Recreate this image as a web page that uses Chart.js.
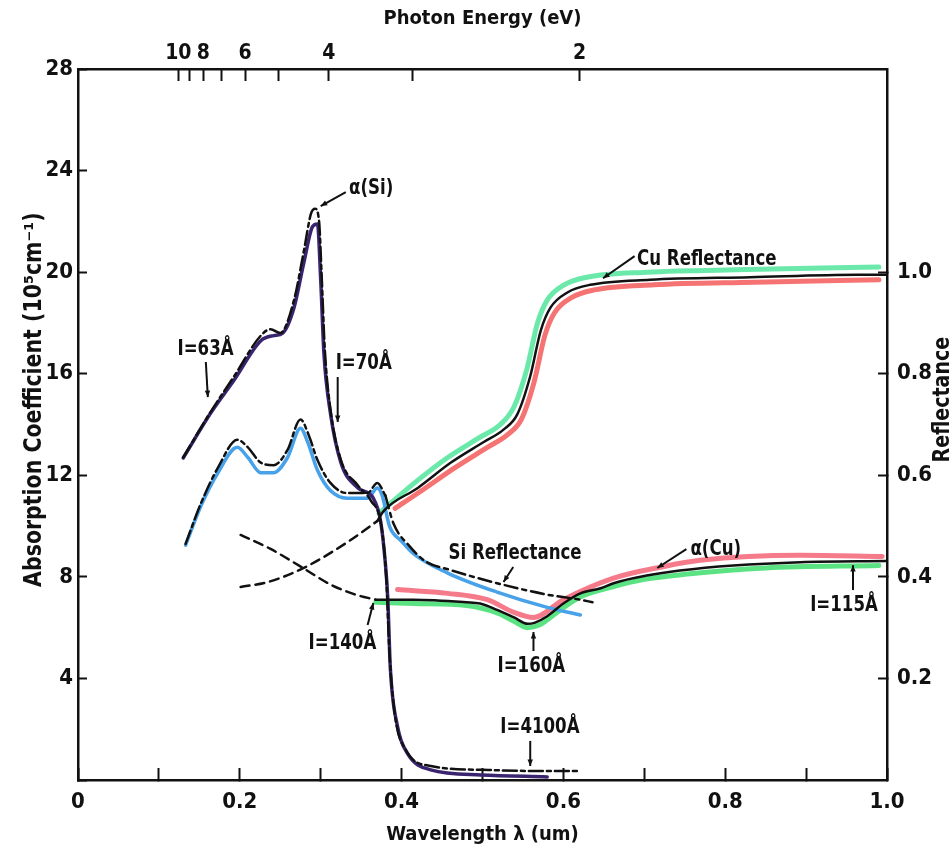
<!DOCTYPE html>
<html><head><meta charset="utf-8">
<script src="https://cdn.jsdelivr.net/npm/chart.js@4.4.0/dist/chart.umd.min.js"></script>
<style>html,body{margin:0;padding:0;background:#fff;}#wrap{width:950px;height:854px;}</style>
</head><body><div id="wrap"><canvas id="c" width="950" height="854"></canvas></div>
<script>
// ---------- data (wavelength in um, absorption in 1e5 cm^-1, reflectance 0..1) ----------
const siThickLambda   = [0.130,0.164,0.193,0.226,0.242,0.253,0.267,0.279,0.290,0.296,0.300,0.304,0.312,0.325,0.346,0.365,0.374,0.380,0.383,0.386,0.395,0.407,0.436,0.498,0.580];
const siThickMeasured = [12.68,14.45,15.75,17.3,17.5,17.6,18.6,20.35,21.8,21.9,19.7,16.8,14.45,12.5,11.5,11.1,10.2,8.5,7.1,4.45,2.1,1.06,0.4,0.2,0.12];

const siThickFitLambda = [0.130,0.164,0.193,0.226,0.238,0.250,0.267,0.279,0.288,0.293,0.298,0.301,0.305,0.312,0.325,0.346,0.362,0.375,0.381,0.385,0.392,0.405,0.436,0.500,0.580,0.621];
const siThickFit       = [12.7,14.5,15.9,17.5,17.75,17.6,18.9,20.8,22.3,22.5,22.0,20.0,17.0,14.6,12.6,11.6,11.0,10.0,8.0,5.0,2.5,1.2,0.55,0.4,0.35,0.35];

const siThinLambda   = [0.133,0.152,0.173,0.197,0.210,0.226,0.242,0.259,0.275,0.284,0.296,0.312,0.333,0.358,0.370,0.376,0.385,0.400,0.415,0.457,0.518,0.580,0.621];
const siThinMeasured = [9.25,10.8,12.1,13.1,12.7,12.1,12.1,12.7,13.85,13.3,12.2,11.4,11.1,11.1,11.5,11.2,10.0,9.4,8.9,8.15,7.4,6.8,6.5];

const siThinFitLambda = [0.133,0.152,0.173,0.197,0.210,0.226,0.242,0.259,0.275,0.285,0.296,0.312,0.333,0.358,0.370,0.380];
const siThinFit       = [9.3,10.9,12.3,13.4,13.1,12.5,12.4,13.0,14.2,13.6,12.6,11.7,11.3,11.3,11.7,11.2];

const siReflLambda = [0.380,0.390,0.410,0.430,0.457,0.518,0.580,0.621,0.636];
const siRefl       = [0.56,0.505,0.46,0.43,0.415,0.3875,0.365,0.355,0.35];

const cuReflExtLambda = [0.201,0.235,0.279,0.337,0.370];
const cuReflExt       = [0.38,0.39,0.4175,0.4725,0.51];

const cuReflLambda = [0.370,0.378,0.420,0.461,0.501,0.526,0.543,0.559,0.572,0.584,0.605,0.633,0.707,0.831,0.963,1.000];
const cuRefl       = [0.51,0.53,0.575,0.625,0.665,0.69,0.72,0.795,0.885,0.93,0.96,0.975,0.985,0.99,0.995,0.995];

const cuReflGreenLambda = [0.372,0.416,0.457,0.497,0.522,0.539,0.555,0.568,0.580,0.601,0.629,0.703,0.827,0.990];
const cuReflGreen       = [0.525,0.585,0.635,0.675,0.70,0.735,0.81,0.90,0.945,0.975,0.99,1.0,1.005,1.01];

const cuReflRedLambda = [0.392,0.425,0.466,0.506,0.531,0.548,0.564,0.577,0.589,0.610,0.638,0.712,0.836,0.990];
const cuReflRed       = [0.535,0.57,0.615,0.655,0.68,0.71,0.785,0.875,0.92,0.95,0.965,0.975,0.98,0.985];

const cuAbsExtLambda = [0.201,0.238,0.278,0.312,0.343,0.368];
const cuAbsExt       = [9.65,9.1,8.35,7.7,7.3,7.1];

const cuAbsLambda = [0.368,0.415,0.480,0.497,0.518,0.539,0.556,0.565,0.580,0.600,0.621,0.646,0.662,0.703,0.744,0.810,0.893,1.000];
const cuAbs       = [7.1,7.1,7.0,6.95,6.7,6.4,6.15,6.2,6.45,6.95,7.35,7.55,7.75,8.05,8.25,8.45,8.58,8.62];

const cuAbsGreenLambda = [0.368,0.415,0.480,0.518,0.539,0.556,0.570,0.590,0.620,0.660,0.700,0.750,0.850,0.990];
const cuAbsGreen       = [7.0,6.95,6.87,6.58,6.25,6.0,6.1,6.55,7.2,7.6,7.9,8.1,8.35,8.45];

const cuAbsRedLambda = [0.395,0.457,0.506,0.539,0.563,0.600,0.662,0.723,0.769,0.893,0.994];
const cuAbsRed       = [7.5,7.35,7.1,6.6,6.4,7.1,7.95,8.4,8.65,8.85,8.8];

// axis ticks
const energyTicks  = [10,9,8,7,6,5,4,3,2];       // eV, top axis tick marks
const energyLabels = [10,8,6,4,2];               // eV, labelled
const reflTicks    = [0.2,0.4,0.6,0.8,1.0];
const absTicksMax  = 28;

// annotations: [text, lambda, value, arrowFrom(l,v), arrowTo(l,v)]
const notes = [
  ['α(Si)',          0.335, 23.3,  [0.331,23.15],[0.300,22.6]],
  ['I=63Å',          0.123, 16.97, [0.158,16.46],[0.1605,15.08]],
  ['I=70Å',          0.3185,16.42, [0.321,15.87],[0.321,14.1]],
  ['Cu Reflectance', 0.691, 20.51, [0.688,20.63],[0.649,19.76]],
  ['Si Reflectance', 0.458, 8.94,  [0.538,8.39],[0.526,7.8]],
  ['α(Cu)',          0.757, 9.09,  [0.752,9.09],[0.716,8.35]],
  ['I=115Å',         0.905, 6.89,  [0.958,7.48],[0.958,8.46]],
  ['I=140Å',         0.285, 5.39,  [0.358,6.1],[0.365,6.97]],
  ['I=160Å',         0.5185,4.49,  [0.563,5.08],[0.563,5.83]],
  ['I=4100Å',        0.522, 2.09,  [0.559,1.54],[0.559,0.55]]
];

// ---------- chart ----------
const FONT = "'DejaVu Sans Condensed','Liberation Sans Narrow','Liberation Sans',sans-serif";
const pts = (xs, ys) => xs.map((x, i) => ({x, y: ys[i]}));

function ds(data, color, width, axis, order, dash) {
  return {data, borderColor: color, borderWidth: width, yAxisID: axis, order,
    borderDash: dash || [], pointRadius: 0, fill: false,
    cubicInterpolationMode: 'monotone', borderCapStyle: 'round', borderJoinStyle: 'round'};
}

const datasets = [
  ds(pts(cuReflGreenLambda, cuReflGreen), 'rgba(70,228,150,0.8)', 5, 'y2', 3),
  ds(pts(cuReflRedLambda, cuReflRed), 'rgba(242,80,80,0.8)', 5, 'y2', 3),
  ds(pts(cuAbsGreenLambda, cuAbsGreen), 'rgba(50,220,100,0.8)', 5, 'y', 3),
  ds(pts(cuAbsRedLambda, cuAbsRed), 'rgba(242,90,110,0.8)', 5, 'y', 2),
  ds(pts(siThickLambda, siThickMeasured), '#3a2470', 3.5, 'y', 1),
  ds(pts(siThinLambda, siThinMeasured), '#47a2ea', 3.5, 'y', 1),
  ds(pts(siThickFitLambda, siThickFit), '#111', 2.5, 'y', 0, [14,4,4,4]),
  ds(pts(siThinFitLambda, siThinFit), '#111', 2.5, 'y', 0, [14,4,4,4]),
  ds(pts(siReflLambda, siRefl), '#111', 2.5, 'y2', 0, [13,5,4,5]),
  ds(pts(cuReflExtLambda, cuReflExt), '#111', 2.5, 'y2', 0, [9,6]),
  ds(pts(cuAbsExtLambda, cuAbsExt), '#111', 2.5, 'y', 0, [9,6]),
  ds(pts(cuReflLambda, cuRefl), '#111', 2.5, 'y2', 0),
  ds(pts(cuAbsLambda, cuAbs), '#111', 2.5, 'y', 0)
];

function narrowText(ctx, text, x, y, size, sx, rot) {
  ctx.save();
  ctx.translate(x, y);
  if (rot) ctx.rotate(rot);
  ctx.scale(sx, 1);
  ctx.font = 'bold ' + size + 'px ' + FONT;
  ctx.fillText(text, 0, 0);
  ctx.restore();
}

const notesPlugin = {
  id: 'notes',
  afterDatasetsDraw(chart) {
    const {ctx, scales: {x, y}} = chart;
    ctx.save();
    ctx.fillStyle = '#111'; ctx.strokeStyle = '#111';
    ctx.textBaseline = 'middle'; ctx.textAlign = 'left';
    for (const [t, l, v, a, b] of notes) {
      narrowText(ctx, t, x.getPixelForValue(l), y.getPixelForValue(v), 22, 0.84, 0);
      const x1 = x.getPixelForValue(a[0]), y1 = y.getPixelForValue(a[1]);
      const x2 = x.getPixelForValue(b[0]), y2 = y.getPixelForValue(b[1]);
      ctx.lineWidth = 2;
      ctx.beginPath(); ctx.moveTo(x1, y1); ctx.lineTo(x2, y2); ctx.stroke();
      const ang = Math.atan2(y2 - y1, x2 - x1), h = 7;
      ctx.beginPath();
      ctx.moveTo(x2, y2);
      ctx.lineTo(x2 - h * Math.cos(ang - 0.4), y2 - h * Math.sin(ang - 0.4));
      ctx.lineTo(x2 - h * Math.cos(ang + 0.4), y2 - h * Math.sin(ang + 0.4));
      ctx.closePath(); ctx.fill();
    }
    ctx.restore();
  }
};

const titlesPlugin = {
  id: 'sideTitles',
  afterDraw(chart) {
    const {ctx, chartArea} = chart;
    const h = chartArea.bottom - chartArea.top;
    ctx.save();
    ctx.fillStyle = '#111';
    ctx.textAlign = 'center'; ctx.textBaseline = 'middle';
    narrowText(ctx, 'Absorption Coefficient (10⁵cm⁻¹)', 35, chartArea.top + h * 0.465, 24, 0.95, -Math.PI / 2);
    narrowText(ctx, 'Reflectance', 943, chartArea.top + h * 0.465, 23, 0.92, -Math.PI / 2);
    ctx.restore();
  }
};

const axisCommon = (tl) => ({
  border: {display: true, color: '#111', width: 2.5},
  grid: {drawOnChartArea: false, drawTicks: true, tickLength: tl, tickWidth: 2, tickColor: '#111'}
});

new Chart(document.getElementById('c'), {
  type: 'line',
  data: {datasets},
  plugins: [notesPlugin, titlesPlugin],
  options: {
    responsive: false, animation: false, devicePixelRatio: 1,
    layout: {padding: 0},
    plugins: {legend: {display: false}, tooltip: {enabled: false}},
    scales: {
      x: {
        type: 'linear', position: 'bottom', min: 0, max: 1,
        ...axisCommon(-12),
        afterFit: s => { s.height = 74; },
        ticks: {stepSize: 0.1, autoSkip: false, maxRotation: 0, padding: 21, color: '#111',
          font: {family: FONT, size: 22, weight: 'bold'},
          callback: v => { const r = Math.round(v * 10); return r % 2 ? '' : (r === 0 ? '0' : (r / 10).toFixed(1)); }},
        title: {display: true, text: 'Wavelength λ (um)', color: '#111', padding: {top: 0, bottom: 7},
          font: {family: FONT, size: 20, weight: 'bold'}}
      },
      x2: {
        type: 'linear', position: 'top', min: 0, max: 1,
        ...axisCommon(-12),
        afterFit: s => { s.height = 69; },
        afterBuildTicks: s => { s.ticks = energyTicks.map(e => ({value: 1.24 / e})); },
        ticks: {autoSkip: false, maxRotation: 0, padding: 15, color: '#111',
          font: {family: FONT, size: 21, weight: 'bold'},
          callback: v => { const e = Math.round(1.24 / v); return energyLabels.includes(e) ? String(e) : ''; }},
        title: {display: true, text: 'Photon Energy (eV)', color: '#111', padding: {top: 7, bottom: 0},
          font: {family: FONT, size: 20, weight: 'bold'}}
      },
      y: {
        type: 'linear', position: 'left', min: 0, max: absTicksMax,
        ...axisCommon(-9),
        afterFit: s => { s.width = 78; },
        ticks: {stepSize: 4, padding: 14, color: '#111',
          font: {family: FONT, size: 22, weight: 'bold'},
          callback: v => v === 0 ? '' : String(v)}
      },
      y2: {
        type: 'linear', position: 'right', min: 0, max: absTicksMax / 20,
        ...axisCommon(-9),
        afterFit: s => { s.width = 63; },
        afterBuildTicks: s => { s.ticks = reflTicks.map(v => ({value: v})); },
        ticks: {padding: 19, color: '#111',
          font: {family: FONT, size: 22, weight: 'bold'},
          callback: v => v.toFixed(1)}
      }
    }
  }
});
</script></body></html>
